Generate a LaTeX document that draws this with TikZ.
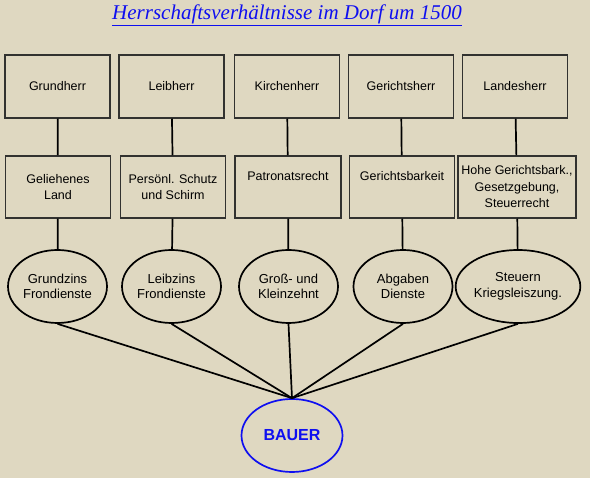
\documentclass[tikz,border=0pt]{standalone}
\usepackage{fontspec}
\setmainfont{Liberation Serif}
\setsansfont{Liberation Sans}
\usetikzlibrary{shapes.geometric}
\definecolor{paper}{RGB}{223,216,193}
\definecolor{rahmen}{RGB}{50,50,48}
\definecolor{titelblau}{RGB}{15,15,240}
\begin{document}
\begin{tikzpicture}[x=1pt, y=-1pt,
		herr/.style = {rectangle, draw=rahmen, line width=1.5pt,
				minimum width=105pt, minimum height=63pt,
				align=center, font=\sffamily\fontsize{12.5}{16.5}\selectfont},
		recht/.style = {herr, minimum height=62pt},
		last/.style = {ellipse, draw=black, line width=1.7pt, inner sep=0pt,
				minimum width=99pt, minimum height=73pt,
				align=center, font=\sffamily\fontsize{13}{15.5}\selectfont},
		verb/.style = {line width=1.7pt}]

	% Background
	\fill[paper] (0,0) rectangle (590,478);
	\useasboundingbox (0,0) rectangle (590,478);

	% Title
	\node[font=\itshape\fontsize{21}{24}\selectfont, text=titelblau] (titel) at (287,15)
		{\underline{Herrschaftsverhältnisse im Dorf um 1500}};

	% Lords
	\node[herr] (grundherr) at (57.5,86.5) {Grundherr};
	\node[herr] (leibherr) at (171.5,86.5) {Leibherr};
	\node[herr] (kirchenherr) at (287,86.5) {Kirchenherr};
	\node[herr] (gerichtsherr) at (401,86.5) {Gerichtsherr};
	\node[herr] (landesherr) at (515,86.5) {Landesherr};

	% Rights
	\node[recht] (land) at (58,187) {Geliehenes\\Land};
	\node[recht] (schutz) at (173,187) {Persönl. Schutz\\und Schirm};
	\node[recht, minimum width=106pt] (patronat) at (288,187) {Patronatsrecht\\\strut};
	\node[recht] (barkeit) at (402,187) {Gerichtsbarkeit\\\strut};
	\node[recht, minimum width=116pt] (hohe) at (517,187)
		{Hohe Gerichtsbark.,\\Gesetzgebung,\\Steuerrecht};

	% Burdens
	\node[last] (grundzins) at (57.5,286.5) {Grundzins\\Frondienste};
	\node[last] (leibzins) at (171.5,286.5) {Leibzins\\Frondienste};
	\node[last] (zehnt) at (288.5,286.5) {Groß- und\\Kleinzehnt};
	\node[last] (abgaben) at (403,286.5) {Abgaben\\Dienste};
	\node[last] (steuern) at (518,286.5) {Steuern\\Kriegsleiszung.};

	% Peasant
	\node[ellipse, draw=titelblau, line width=1.7pt, inner sep=0pt,
		minimum width=101pt, minimum height=73pt, text=titelblau,
		font=\sffamily\bfseries\fontsize{16}{19}\selectfont] (bauer) at (292,435.5) {BAUER};

	% Connections
	\draw[verb] (grundherr) -- (land);
	\draw[verb] (leibherr) -- (schutz);
	\draw[verb] (kirchenherr) -- (patronat);
	\draw[verb] (gerichtsherr) -- (barkeit);
	\draw[verb] (landesherr) -- (hohe);

	\draw[verb] (land) -- (grundzins);
	\draw[verb] (schutz) -- (leibzins);
	\draw[verb] (patronat) -- (zehnt);
	\draw[verb] (barkeit) -- (abgaben);
	\draw[verb] (hohe) -- (steuern);

	\draw[verb] (grundzins.south) -- (bauer.north);
	\draw[verb] (leibzins.south) -- (bauer.north);
	\draw[verb] (zehnt.south) -- (bauer.north);
	\draw[verb] (abgaben.south) -- (bauer.north);
	\draw[verb] (steuern.south) -- (bauer.north);

\end{tikzpicture}
\end{document}
